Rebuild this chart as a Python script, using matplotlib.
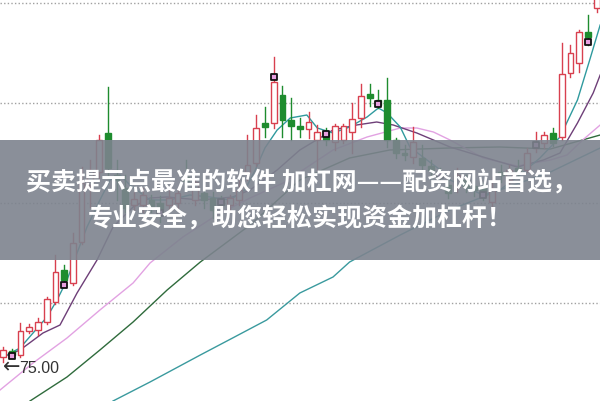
import matplotlib
matplotlib.use("Agg")
import matplotlib.pyplot as plt
from matplotlib.patches import Rectangle

# ---- candle data (index order) ----
opens  = [75.5,76.1,75.7,78.1,78.2,79.0,81.0,84.2,82.9,87.0,92.7,94.0,97.9,93.7,92.4,90.7,90.7,91.2,90.9,90.7,
          90.9,93.5,91.2,91.9,91.4,91.2,90.7,91.2,94.0,94.9,98.9,98.9,101.7,99.2,98.6,98.3,97.2,98.0,97.0,97.2,
          98.0,99.4,101.8,101.2,101.2,97.2,95.9,95.5,95.4,94.6,93.9,92.7,92.5,93.2,92.6,92.4,91.0,94.0,93.2,94.4,
          94.2,96.4,96.9,97.9,97.5,103.9,104.9,108.0,110.4]
closes = [76.2,75.7,78.1,78.5,79.0,81.3,84.0,83.2,86.9,92.9,94.2,97.2,94.4,93.2,90.4,91.3,91.7,90.5,90.0,91.4,
          91.9,93.1,93.0,91.2,90.2,90.7,91.4,92.2,94.7,98.4,98.5,103.0,99.2,98.6,98.3,99.0,98.0,97.2,98.6,98.6,
          99.3,101.6,101.4,100.7,97.2,95.9,95.7,97.0,94.7,94.2,93.5,91.9,93.7,92.5,92.2,91.6,92.2,93.7,94.2,94.0,
          95.9,97.0,97.7,96.9,103.8,105.9,108.0,107.5,113.2]
highs  = [76.5,76.3,78.9,78.8,79.4,81.5,85.7,84.7,87.9,94.5,95.2,97.7,102.5,95.2,93.7,92.0,92.4,91.7,91.6,92.2,
          92.5,95.2,93.4,92.4,92.0,91.6,91.7,93.2,97.7,99.7,100.5,105.5,102.6,101.4,99.4,100.0,98.7,98.4,98.8,98.8,
          100.9,102.8,102.8,102.2,103.4,97.4,96.7,98.5,96.7,95.2,94.4,93.4,94.4,93.7,93.2,92.9,93.5,94.7,94.7,95.2,
          96.4,98.0,98.0,98.4,106.9,106.7,108.2,109.7,114.2]
lows   = [75.0,75.4,75.5,77.9,77.7,78.8,80.8,82.8,82.7,86.8,90.5,93.4,93.4,91.2,90.0,90.2,90.0,90.0,89.0,90.2,
          90.2,92.2,90.7,90.4,89.4,90.4,90.2,90.7,93.2,94.6,97.5,98.4,97.5,97.2,97.5,97.4,94.2,96.7,96.2,96.9,
          95.9,98.5,100.6,100.4,96.5,95.4,95.2,94.9,94.2,93.4,93.0,91.4,92.0,92.0,91.6,91.2,90.2,93.0,92.7,93.4,
          94.0,96.0,96.4,96.6,97.2,103.5,104.0,106.7,110.0]

# signal markers
sig_idx   = [1, 7, 18, 25, 31, 37, 43, 50, 55, 61, 67]
sig_price = [75.6, 82.7, 89.9, 91.0, 103.5, 97.8, 100.8, 93.7, 91.7, 96.7, 107.0]

# moving-average lines (index, value)
ma5_x = [0,1.95,3.44,5.04,6.19,7.33,8.48,9.62,11.1,12.26,13.4,14.55,16.84,19.1,21.4,23.7,26.0,27.7,28.9,30.0,
         31.4,32.9,34.8,36.0,37.8,39.7,41.7,43.0,44.0,45.5,46.6,48.1,50.1,51.2,55.0,56.9,59.2,61.5,63.8,65.8,67.2,68.4]
ma5_y = [75.5,76.4,77.9,79.5,81.2,83.2,85.9,88.5,91.2,93.2,93.7,92.7,91.2,91.2,91.7,91.5,91.2,92.2,94.2,96.4,
         98.2,99.4,99.7,98.4,97.9,98.5,99.5,100.4,99.9,98.5,96.5,95.5,94.2,93.2,91.7,92.2,93.7,95.4,97.5,101.2,105.2,108.7]
ma10_x = [0,1.95,4.58,6.53,8.48,10.77,12.6,14.9,16.84,18.8,22.6,26.3,28.3,31.4,34.0,37.8,40.5,42.8,44.7,47.4,
          49.3,51.2,55.0,58.9,61.9,63.8,65.8,67.6,68.4]
ma10_y = [75.5,76.2,77.9,78.7,81.9,85.2,88.5,90.5,91.4,91.5,91.2,91.5,92.2,94.2,96.2,98.2,98.7,99.0,98.7,97.9,
          97.2,96.5,95.5,94.5,95.2,95.9,98.9,101.9,103.7]
ma20_x = [-0.34,3.44,7.33,11.1,14.9,16.84,20.6,24.5,28.3,32.1,34.0,37.8,41.7,45.5,47.4,49.3,51.2,55.0,58.9,62.7,
          64.6,66.4,68.4]
ma20_y = [72.2,74.9,77.4,80.2,82.9,84.9,87.5,89.7,91.4,92.9,94.0,96.2,97.5,98.4,98.4,98.0,97.2,95.4,94.6,95.2,
          95.7,97.2,98.7]
ma60_x = [3.09,7.33,11.1,14.9,18.8,22.6,28.3,34.0,39.7,44.3,51.2,56.9,62.7,68.4]
ma60_y = [71.1,73.5,76.2,79.0,82.2,85.0,88.7,93.2,95.4,96.2,96.4,96.5,96.3,97.7]
ma120_x = [12.6,16.84,22.6,26.3,30.2,34.0,37.8,39.7,45.5,51.2,56.9,62.7,68.4]
ma120_y = [71.1,73.0,75.7,77.4,79.2,81.9,83.5,85.0,87.7,90.2,92.2,94.0,96.4]

grid_levels = [110.9, 100.9, 90.9, 80.9]
low_arrow = "←"
low_value = "75.00"
banner_line1 = "买卖提示点最准的软件 加杠网——配资网站首选，"
banner_line2 = "专业安全，助您轻松实现资金加杠杆！"

RED = "#d8404f"
GREEN = "#1e8c2e"

fig = plt.figure(figsize=(6, 4.01), dpi=100)
ax = fig.add_axes([0, 0, 1, 1])
ax.set_xlim(-0.344, 68.38)
ax.set_ylim(71.1, 111.2)
ax.axis("off")

for g in grid_levels:
    ax.axhline(g, color="#a0a0a0", lw=1.0, ls=(0, (1, 1.6)), zorder=1)

# MA lines
ax.plot(ma120_x, ma120_y, color="#3a9a9e", lw=1.0, zorder=2)
ax.plot(ma60_x, ma60_y, color="#2f6b3c", lw=1.0, zorder=2)
ax.plot(ma20_x, ma20_y, color="#e2a2e2", lw=1.0, zorder=2)
ax.plot(ma10_x, ma10_y, color="#6e3f78", lw=1.0, zorder=2)
ax.plot(ma5_x, ma5_y, color="#2f9a9e", lw=1.0, zorder=2)

w = 0.66
for i, (o, c, h, l) in enumerate(zip(opens, closes, highs, lows)):
    top, bot = max(o, c), min(o, c)
    if c >= o:
        ax.plot([i, i], [top, h], color=RED, lw=1.0, zorder=3)
        ax.plot([i, i], [l, bot], color=RED, lw=1.0, zorder=3)
        ax.add_patch(Rectangle((i - w / 2, bot), w, max(top - bot, 0.08),
                               facecolor="white", edgecolor=RED, lw=1.0, zorder=4))
    else:
        ax.plot([i, i], [l, h], color=GREEN, lw=1.0, zorder=3)
        ax.add_patch(Rectangle((i - w / 2, bot), w, max(top - bot, 0.08),
                               facecolor=GREEN, edgecolor=GREEN, lw=1.0, zorder=4))

ax.scatter(sig_idx, sig_price, marker="s", s=20, facecolor="#e8a0e0",
           edgecolor="#111111", linewidths=1.3, zorder=5)

ax.text(-0.05, 74.45, low_arrow, ha="left", va="center", fontsize=15,
        color="#333333", family=["DejaVu Sans"], zorder=6)
ax.text(1.9, 74.35, low_value, ha="left", va="center", fontsize=11.5,
        color="#333333", family=["Liberation Sans", "DejaVu Sans"], zorder=6)

# banner overlay
fig.patches.append(Rectangle((0, 1 - 260 / 401), 1, 120 / 401, transform=fig.transFigure,
                             facecolor="#7d838e", alpha=0.9, zorder=10))
fig.text(0.503, 1 - 183 / 401, banner_line1, ha="center", va="center", fontsize=18,
         fontweight="bold", color="white", family=["Noto Sans CJK SC", "DejaVu Sans"], zorder=11)
fig.text(0.5, 1 - 219 / 401, banner_line2, ha="center", va="center", fontsize=18,
         fontweight="bold", color="white", family=["Noto Sans CJK SC", "DejaVu Sans"], zorder=11)

fig.savefig("out.png", dpi=100)
